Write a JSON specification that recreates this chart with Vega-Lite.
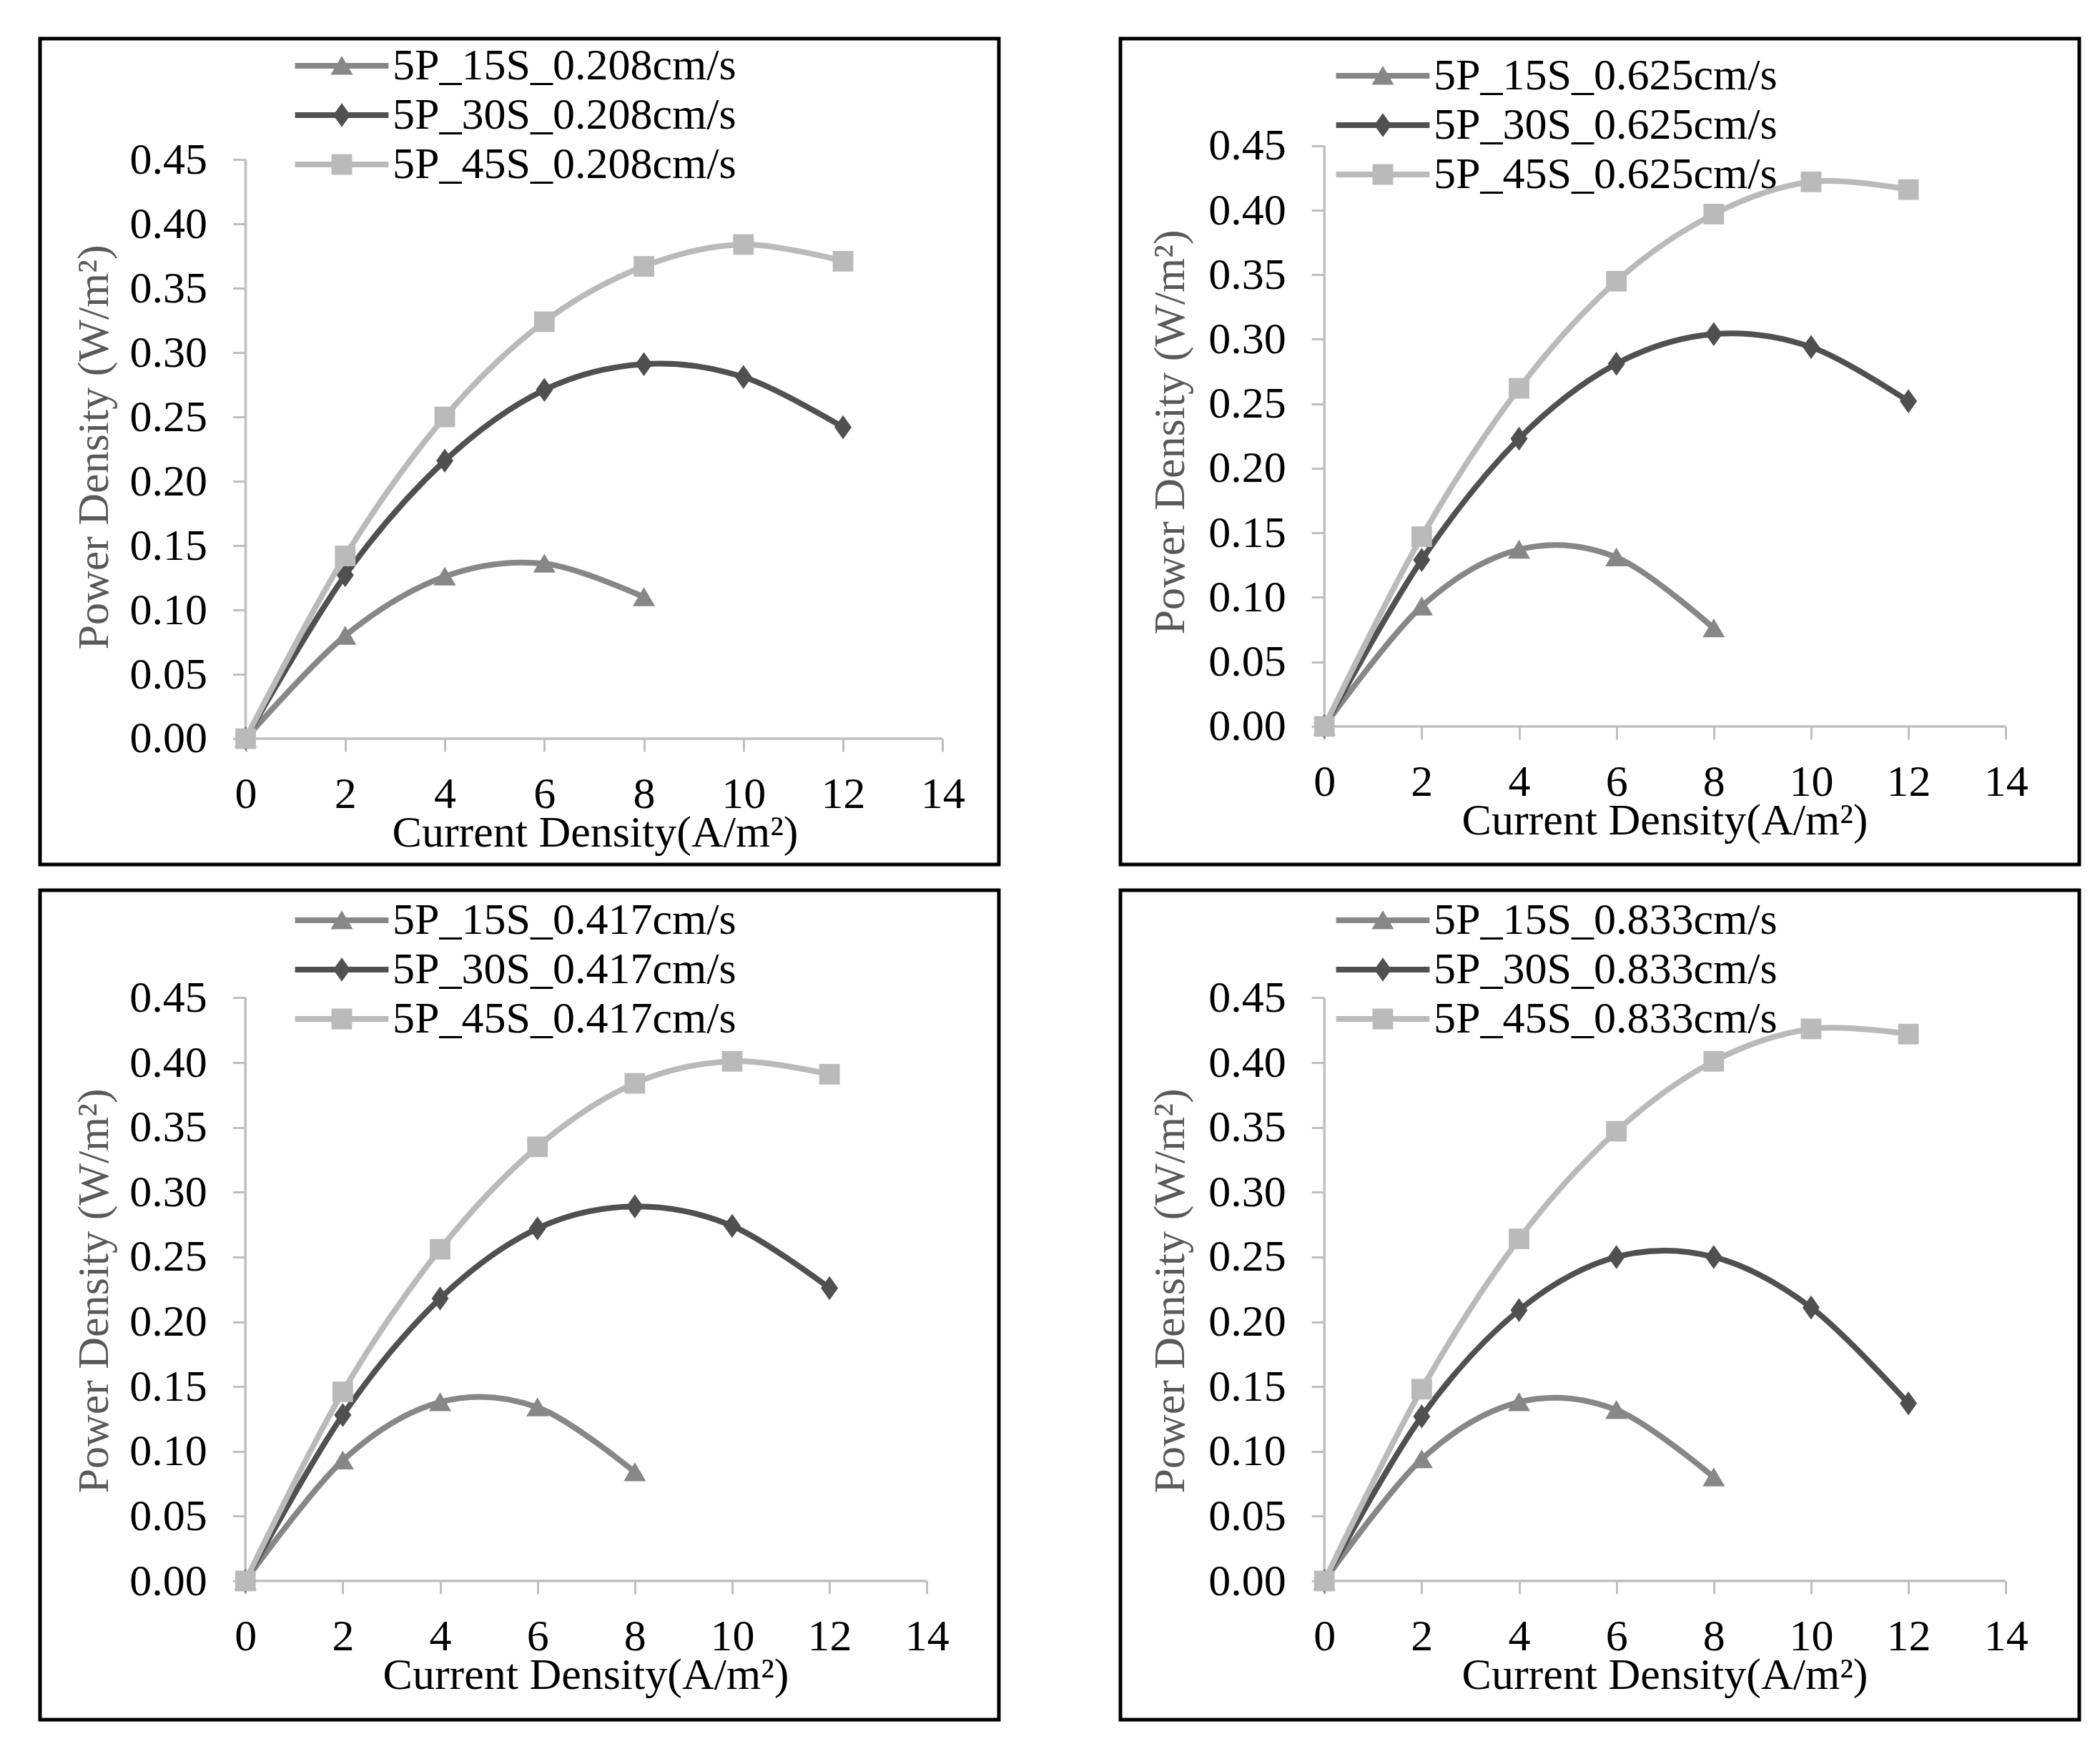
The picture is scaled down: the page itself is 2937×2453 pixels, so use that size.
{
  "$schema": "https://vega.github.io/schema/vega-lite/v6.json",
  "padding": {"left": 53, "top": 51, "right": 0, "bottom": 0},
  "background": "white",
  "datasets": {
    "pts": [
      {"panel": "A", "series": "5P_15S_0.208cm/s", "x": 0, "y": 0},
      {"panel": "A", "series": "5P_15S_0.208cm/s", "x": 2, "y": 0.080},
      {"panel": "A", "series": "5P_15S_0.208cm/s", "x": 4, "y": 0.126},
      {"panel": "A", "series": "5P_15S_0.208cm/s", "x": 6, "y": 0.136},
      {"panel": "A", "series": "5P_15S_0.208cm/s", "x": 8, "y": 0.110},
      {"panel": "A", "series": "5P_30S_0.208cm/s", "x": 0, "y": 0},
      {"panel": "A", "series": "5P_30S_0.208cm/s", "x": 2, "y": 0.127},
      {"panel": "A", "series": "5P_30S_0.208cm/s", "x": 4, "y": 0.216},
      {"panel": "A", "series": "5P_30S_0.208cm/s", "x": 6, "y": 0.271},
      {"panel": "A", "series": "5P_30S_0.208cm/s", "x": 8, "y": 0.291},
      {"panel": "A", "series": "5P_30S_0.208cm/s", "x": 10, "y": 0.281},
      {"panel": "A", "series": "5P_30S_0.208cm/s", "x": 12, "y": 0.242},
      {"panel": "A", "series": "5P_45S_0.208cm/s", "x": 0, "y": 0},
      {"panel": "A", "series": "5P_45S_0.208cm/s", "x": 2, "y": 0.142},
      {"panel": "A", "series": "5P_45S_0.208cm/s", "x": 4, "y": 0.250},
      {"panel": "A", "series": "5P_45S_0.208cm/s", "x": 6, "y": 0.324},
      {"panel": "A", "series": "5P_45S_0.208cm/s", "x": 8, "y": 0.367},
      {"panel": "A", "series": "5P_45S_0.208cm/s", "x": 10, "y": 0.384},
      {"panel": "A", "series": "5P_45S_0.208cm/s", "x": 12, "y": 0.371},
      {"panel": "B", "series": "5P_15S_0.625cm/s", "x": 0, "y": 0},
      {"panel": "B", "series": "5P_15S_0.625cm/s", "x": 2, "y": 0.093},
      {"panel": "B", "series": "5P_15S_0.625cm/s", "x": 4, "y": 0.137},
      {"panel": "B", "series": "5P_15S_0.625cm/s", "x": 6, "y": 0.131},
      {"panel": "B", "series": "5P_15S_0.625cm/s", "x": 8, "y": 0.076},
      {"panel": "B", "series": "5P_30S_0.625cm/s", "x": 0, "y": 0},
      {"panel": "B", "series": "5P_30S_0.625cm/s", "x": 2, "y": 0.129},
      {"panel": "B", "series": "5P_30S_0.625cm/s", "x": 4, "y": 0.223},
      {"panel": "B", "series": "5P_30S_0.625cm/s", "x": 6, "y": 0.281},
      {"panel": "B", "series": "5P_30S_0.625cm/s", "x": 8, "y": 0.304},
      {"panel": "B", "series": "5P_30S_0.625cm/s", "x": 10, "y": 0.294},
      {"panel": "B", "series": "5P_30S_0.625cm/s", "x": 12, "y": 0.252},
      {"panel": "B", "series": "5P_45S_0.625cm/s", "x": 0, "y": 0},
      {"panel": "B", "series": "5P_45S_0.625cm/s", "x": 2, "y": 0.147},
      {"panel": "B", "series": "5P_45S_0.625cm/s", "x": 4, "y": 0.262},
      {"panel": "B", "series": "5P_45S_0.625cm/s", "x": 6, "y": 0.345},
      {"panel": "B", "series": "5P_45S_0.625cm/s", "x": 8, "y": 0.397},
      {"panel": "B", "series": "5P_45S_0.625cm/s", "x": 10, "y": 0.422},
      {"panel": "B", "series": "5P_45S_0.625cm/s", "x": 12, "y": 0.416},
      {"panel": "C", "series": "5P_15S_0.417cm/s", "x": 0, "y": 0},
      {"panel": "C", "series": "5P_15S_0.417cm/s", "x": 2, "y": 0.093},
      {"panel": "C", "series": "5P_15S_0.417cm/s", "x": 4, "y": 0.138},
      {"panel": "C", "series": "5P_15S_0.417cm/s", "x": 6, "y": 0.134},
      {"panel": "C", "series": "5P_15S_0.417cm/s", "x": 8, "y": 0.084},
      {"panel": "C", "series": "5P_30S_0.417cm/s", "x": 0, "y": 0},
      {"panel": "C", "series": "5P_30S_0.417cm/s", "x": 2, "y": 0.128},
      {"panel": "C", "series": "5P_30S_0.417cm/s", "x": 4, "y": 0.218},
      {"panel": "C", "series": "5P_30S_0.417cm/s", "x": 6, "y": 0.272},
      {"panel": "C", "series": "5P_30S_0.417cm/s", "x": 8, "y": 0.289},
      {"panel": "C", "series": "5P_30S_0.417cm/s", "x": 10, "y": 0.274},
      {"panel": "C", "series": "5P_30S_0.417cm/s", "x": 12, "y": 0.226},
      {"panel": "C", "series": "5P_45S_0.417cm/s", "x": 0, "y": 0},
      {"panel": "C", "series": "5P_45S_0.417cm/s", "x": 2, "y": 0.146},
      {"panel": "C", "series": "5P_45S_0.417cm/s", "x": 4, "y": 0.256},
      {"panel": "C", "series": "5P_45S_0.417cm/s", "x": 6, "y": 0.335},
      {"panel": "C", "series": "5P_45S_0.417cm/s", "x": 8, "y": 0.384},
      {"panel": "C", "series": "5P_45S_0.417cm/s", "x": 10, "y": 0.401},
      {"panel": "C", "series": "5P_45S_0.417cm/s", "x": 12, "y": 0.391},
      {"panel": "D", "series": "5P_15S_0.833cm/s", "x": 0, "y": 0},
      {"panel": "D", "series": "5P_15S_0.833cm/s", "x": 2, "y": 0.094},
      {"panel": "D", "series": "5P_15S_0.833cm/s", "x": 4, "y": 0.138},
      {"panel": "D", "series": "5P_15S_0.833cm/s", "x": 6, "y": 0.132},
      {"panel": "D", "series": "5P_15S_0.833cm/s", "x": 8, "y": 0.080},
      {"panel": "D", "series": "5P_30S_0.833cm/s", "x": 0, "y": 0},
      {"panel": "D", "series": "5P_30S_0.833cm/s", "x": 2, "y": 0.127},
      {"panel": "D", "series": "5P_30S_0.833cm/s", "x": 4, "y": 0.209},
      {"panel": "D", "series": "5P_30S_0.833cm/s", "x": 6, "y": 0.250},
      {"panel": "D", "series": "5P_30S_0.833cm/s", "x": 8, "y": 0.250},
      {"panel": "D", "series": "5P_30S_0.833cm/s", "x": 10, "y": 0.211},
      {"panel": "D", "series": "5P_30S_0.833cm/s", "x": 12, "y": 0.137},
      {"panel": "D", "series": "5P_45S_0.833cm/s", "x": 0, "y": 0},
      {"panel": "D", "series": "5P_45S_0.833cm/s", "x": 2, "y": 0.148},
      {"panel": "D", "series": "5P_45S_0.833cm/s", "x": 4, "y": 0.264},
      {"panel": "D", "series": "5P_45S_0.833cm/s", "x": 6, "y": 0.347},
      {"panel": "D", "series": "5P_45S_0.833cm/s", "x": 8, "y": 0.401},
      {"panel": "D", "series": "5P_45S_0.833cm/s", "x": 10, "y": 0.426},
      {"panel": "D", "series": "5P_45S_0.833cm/s", "x": 12, "y": 0.422}
    ],
    "origin": [{"x": 0, "y": 0}]
  },
  "resolve": {"scale": {"color": "independent", "shape": "independent"}, "legend": {"color": "independent", "shape": "independent"}},
  "spacing": 30,
  "vconcat": [
    {
      "spacing": 164,
      "resolve": {"scale": {"color": "independent", "shape": "independent"}, "legend": {"color": "independent", "shape": "independent"}},
      "hconcat": [
        {
          "width": 1341, "height": 1155,
          "encoding": {
            "x": {"field": "x", "type": "quantitative", "scale": {"domain": [-4.13, 15.13], "nice": false, "zero": false},
                  "axis": {"title": "Current Density(A/m²)", "offset": -176, "titleX": 776, "titleY": 131, "values": [0, 2, 4, 6, 8, 10, 12, 14], "format": "d"}},
            "y": {"field": "y", "type": "quantitative", "scale": {"domain": [-0.0978, 0.544], "nice": false, "zero": false},
                  "axis": {"title": "Power Density (W/m²)", "offset": -287.6, "titleX": -212, "titleY": 571, "values": [0, 0.05, 0.1, 0.15, 0.2, 0.25, 0.3, 0.35, 0.4, 0.45], "format": ".2f"}}
          },
          "layer": [
            {"data": {"name": "origin"}, "mark": {"type": "rule", "strokeWidth": 3.5, "color": "#bfbfbf"}, "encoding": {"y2": {"datum": 0.45}}},
            {"data": {"name": "origin"}, "mark": {"type": "rule", "strokeWidth": 3.5, "color": "#bfbfbf"}, "encoding": {"x2": {"datum": 14}}},
            {"data": {"name": "pts"}, "transform": [{"filter": "datum.series == '5P_15S_0.208cm/s'"}],
             "mark": {"type": "line", "interpolate": "cardinal", "strokeWidth": 8, "color": "#878787",
                      "point": {"filled": true, "opacity": 1, "size": 576, "color": "#878787", "shape": "M0,-1.15L1.3,1.05H-1.3Z"}}},
            {"data": {"name": "pts"}, "transform": [{"filter": "datum.series == '5P_30S_0.208cm/s'"}],
             "mark": {"type": "line", "interpolate": "cardinal", "strokeWidth": 8, "color": "#505050",
                      "point": {"filled": true, "opacity": 1, "size": 576, "color": "#505050", "shape": "M0,-1.4L1,0L0,1.4L-1,0Z"}}},
            {"data": {"name": "pts"}, "transform": [{"filter": "datum.series == '5P_45S_0.208cm/s'"}],
             "mark": {"type": "line", "interpolate": "cardinal", "strokeWidth": 8, "color": "#bababa",
                      "point": {"filled": true, "opacity": 1, "size": 576, "color": "#bababa", "shape": "M-1.2,-1.2H1.2V1.2H-1.2Z"}}},
            {"data": {"name": "pts"}, "transform": [{"filter": "datum.panel == 'none'"}],
             "mark": {"type": "point", "filled": true, "opacity": 1, "size": 576},
             "encoding": {
               "color": {"field": "series", "type": "nominal", "legend": {"legendX": 391, "legendY": 7},
                 "scale": {"domain": ["5P_15S_0.208cm/s", "5P_30S_0.208cm/s", "5P_45S_0.208cm/s"], "range": ["#878787", "#505050", "#bababa"]}},
               "shape": {"field": "series", "type": "nominal", "legend": {"legendX": 391, "legendY": 7},
                 "scale": {"domain": ["5P_15S_0.208cm/s", "5P_30S_0.208cm/s", "5P_45S_0.208cm/s"],
                           "range": ["M-5.45,-0.33H5.45V0.33H-5.45Z M0,-1.15L1.3,1.05H-1.3Z", "M-5.45,-0.33H5.45V0.33H-5.45Z M0,-1.4L1,0L0,1.4L-1,0Z", "M-5.45,-0.33H5.45V0.33H-5.45Z M-1.2,-1.2H1.2V1.2H-1.2Z"]}}}}
          ]
        },
        {
          "width": 1341, "height": 1155,
          "encoding": {
            "x": {"field": "x", "type": "quantitative", "scale": {"domain": [-4.19, 15.51], "nice": false, "zero": false},
                  "axis": {"title": "Current Density(A/m²)", "offset": -193, "titleX": 761, "titleY": 131, "values": [0, 2, 4, 6, 8, 10, 12, 14], "format": "d"}},
            "y": {"field": "y", "type": "quantitative", "scale": {"domain": [-0.107, 0.533], "nice": false, "zero": false},
                  "axis": {"title": "Power Density (W/m²)", "offset": -285.2, "titleX": -216, "titleY": 550, "values": [0, 0.05, 0.1, 0.15, 0.2, 0.25, 0.3, 0.35, 0.4, 0.45], "format": ".2f"}}
          },
          "layer": [
            {"data": {"name": "origin"}, "mark": {"type": "rule", "strokeWidth": 3.5, "color": "#bfbfbf"}, "encoding": {"y2": {"datum": 0.45}}},
            {"data": {"name": "origin"}, "mark": {"type": "rule", "strokeWidth": 3.5, "color": "#bfbfbf"}, "encoding": {"x2": {"datum": 14}}},
            {"data": {"name": "pts"}, "transform": [{"filter": "datum.series == '5P_15S_0.625cm/s'"}],
             "mark": {"type": "line", "interpolate": "cardinal", "strokeWidth": 8, "color": "#878787",
                      "point": {"filled": true, "opacity": 1, "size": 576, "color": "#878787", "shape": "M0,-1.15L1.3,1.05H-1.3Z"}}},
            {"data": {"name": "pts"}, "transform": [{"filter": "datum.series == '5P_30S_0.625cm/s'"}],
             "mark": {"type": "line", "interpolate": "cardinal", "strokeWidth": 8, "color": "#505050",
                      "point": {"filled": true, "opacity": 1, "size": 576, "color": "#505050", "shape": "M0,-1.4L1,0L0,1.4L-1,0Z"}}},
            {"data": {"name": "pts"}, "transform": [{"filter": "datum.series == '5P_45S_0.625cm/s'"}],
             "mark": {"type": "line", "interpolate": "cardinal", "strokeWidth": 8, "color": "#bababa",
                      "point": {"filled": true, "opacity": 1, "size": 576, "color": "#bababa", "shape": "M-1.2,-1.2H1.2V1.2H-1.2Z"}}},
            {"data": {"name": "pts"}, "transform": [{"filter": "datum.panel == 'none'"}],
             "mark": {"type": "point", "filled": true, "opacity": 1, "size": 576},
             "encoding": {
               "color": {"field": "series", "type": "nominal", "legend": {"legendX": 336, "legendY": 21},
                 "scale": {"domain": ["5P_15S_0.625cm/s", "5P_30S_0.625cm/s", "5P_45S_0.625cm/s"], "range": ["#878787", "#505050", "#bababa"]}},
               "shape": {"field": "series", "type": "nominal", "legend": {"legendX": 336, "legendY": 21},
                 "scale": {"domain": ["5P_15S_0.625cm/s", "5P_30S_0.625cm/s", "5P_45S_0.625cm/s"],
                           "range": ["M-5.45,-0.33H5.45V0.33H-5.45Z M0,-1.15L1.3,1.05H-1.3Z", "M-5.45,-0.33H5.45V0.33H-5.45Z M0,-1.4L1,0L0,1.4L-1,0Z", "M-5.45,-0.33H5.45V0.33H-5.45Z M-1.2,-1.2H1.2V1.2H-1.2Z"]}}}}
          ]
        }
      ]
    },
    {
      "spacing": 164,
      "resolve": {"scale": {"color": "independent", "shape": "independent"}, "legend": {"color": "independent", "shape": "independent"}},
      "hconcat": [
        {
          "width": 1341, "height": 1160,
          "encoding": {
            "x": {"field": "x", "type": "quantitative", "scale": {"domain": [-4.22, 15.48], "nice": false, "zero": false},
                  "axis": {"title": "Current Density(A/m²)", "offset": -194, "titleX": 763, "titleY": 131, "values": [0, 2, 4, 6, 8, 10, 12, 14], "format": "d"}},
            "y": {"field": "y", "type": "quantitative", "scale": {"domain": [-0.107, 0.533], "nice": false, "zero": false},
                  "axis": {"title": "Power Density (W/m²)", "offset": -287.3, "titleX": -212, "titleY": 560, "values": [0, 0.05, 0.1, 0.15, 0.2, 0.25, 0.3, 0.35, 0.4, 0.45], "format": ".2f"}}
          },
          "layer": [
            {"data": {"name": "origin"}, "mark": {"type": "rule", "strokeWidth": 3.5, "color": "#bfbfbf"}, "encoding": {"y2": {"datum": 0.45}}},
            {"data": {"name": "origin"}, "mark": {"type": "rule", "strokeWidth": 3.5, "color": "#bfbfbf"}, "encoding": {"x2": {"datum": 14}}},
            {"data": {"name": "pts"}, "transform": [{"filter": "datum.series == '5P_15S_0.417cm/s'"}],
             "mark": {"type": "line", "interpolate": "cardinal", "strokeWidth": 8, "color": "#878787",
                      "point": {"filled": true, "opacity": 1, "size": 576, "color": "#878787", "shape": "M0,-1.15L1.3,1.05H-1.3Z"}}},
            {"data": {"name": "pts"}, "transform": [{"filter": "datum.series == '5P_30S_0.417cm/s'"}],
             "mark": {"type": "line", "interpolate": "cardinal", "strokeWidth": 8, "color": "#505050",
                      "point": {"filled": true, "opacity": 1, "size": 576, "color": "#505050", "shape": "M0,-1.4L1,0L0,1.4L-1,0Z"}}},
            {"data": {"name": "pts"}, "transform": [{"filter": "datum.series == '5P_45S_0.417cm/s'"}],
             "mark": {"type": "line", "interpolate": "cardinal", "strokeWidth": 8, "color": "#bababa",
                      "point": {"filled": true, "opacity": 1, "size": 576, "color": "#bababa", "shape": "M-1.2,-1.2H1.2V1.2H-1.2Z"}}},
            {"data": {"name": "pts"}, "transform": [{"filter": "datum.panel == 'none'"}],
             "mark": {"type": "point", "filled": true, "opacity": 1, "size": 576},
             "encoding": {
               "color": {"field": "series", "type": "nominal", "legend": {"legendX": 391, "legendY": 11},
                 "scale": {"domain": ["5P_15S_0.417cm/s", "5P_30S_0.417cm/s", "5P_45S_0.417cm/s"], "range": ["#878787", "#505050", "#bababa"]}},
               "shape": {"field": "series", "type": "nominal", "legend": {"legendX": 391, "legendY": 11},
                 "scale": {"domain": ["5P_15S_0.417cm/s", "5P_30S_0.417cm/s", "5P_45S_0.417cm/s"],
                           "range": ["M-5.45,-0.33H5.45V0.33H-5.45Z M0,-1.15L1.3,1.05H-1.3Z", "M-5.45,-0.33H5.45V0.33H-5.45Z M0,-1.4L1,0L0,1.4L-1,0Z", "M-5.45,-0.33H5.45V0.33H-5.45Z M-1.2,-1.2H1.2V1.2H-1.2Z"]}}}}
          ]
        },
        {
          "width": 1341, "height": 1160,
          "encoding": {
            "x": {"field": "x", "type": "quantitative", "scale": {"domain": [-4.19, 15.51], "nice": false, "zero": false},
                  "axis": {"title": "Current Density(A/m²)", "offset": -194, "titleX": 761, "titleY": 131, "values": [0, 2, 4, 6, 8, 10, 12, 14], "format": "d"}},
            "y": {"field": "y", "type": "quantitative", "scale": {"domain": [-0.107, 0.533], "nice": false, "zero": false},
                  "axis": {"title": "Power Density (W/m²)", "offset": -285.2, "titleX": -216, "titleY": 560, "values": [0, 0.05, 0.1, 0.15, 0.2, 0.25, 0.3, 0.35, 0.4, 0.45], "format": ".2f"}}
          },
          "layer": [
            {"data": {"name": "origin"}, "mark": {"type": "rule", "strokeWidth": 3.5, "color": "#bfbfbf"}, "encoding": {"y2": {"datum": 0.45}}},
            {"data": {"name": "origin"}, "mark": {"type": "rule", "strokeWidth": 3.5, "color": "#bfbfbf"}, "encoding": {"x2": {"datum": 14}}},
            {"data": {"name": "pts"}, "transform": [{"filter": "datum.series == '5P_15S_0.833cm/s'"}],
             "mark": {"type": "line", "interpolate": "cardinal", "strokeWidth": 8, "color": "#878787",
                      "point": {"filled": true, "opacity": 1, "size": 576, "color": "#878787", "shape": "M0,-1.15L1.3,1.05H-1.3Z"}}},
            {"data": {"name": "pts"}, "transform": [{"filter": "datum.series == '5P_30S_0.833cm/s'"}],
             "mark": {"type": "line", "interpolate": "cardinal", "strokeWidth": 8, "color": "#505050",
                      "point": {"filled": true, "opacity": 1, "size": 576, "color": "#505050", "shape": "M0,-1.4L1,0L0,1.4L-1,0Z"}}},
            {"data": {"name": "pts"}, "transform": [{"filter": "datum.series == '5P_45S_0.833cm/s'"}],
             "mark": {"type": "line", "interpolate": "cardinal", "strokeWidth": 8, "color": "#bababa",
                      "point": {"filled": true, "opacity": 1, "size": 576, "color": "#bababa", "shape": "M-1.2,-1.2H1.2V1.2H-1.2Z"}}},
            {"data": {"name": "pts"}, "transform": [{"filter": "datum.panel == 'none'"}],
             "mark": {"type": "point", "filled": true, "opacity": 1, "size": 576},
             "encoding": {
               "color": {"field": "series", "type": "nominal", "legend": {"legendX": 336, "legendY": 11},
                 "scale": {"domain": ["5P_15S_0.833cm/s", "5P_30S_0.833cm/s", "5P_45S_0.833cm/s"], "range": ["#878787", "#505050", "#bababa"]}},
               "shape": {"field": "series", "type": "nominal", "legend": {"legendX": 336, "legendY": 11},
                 "scale": {"domain": ["5P_15S_0.833cm/s", "5P_30S_0.833cm/s", "5P_45S_0.833cm/s"],
                           "range": ["M-5.45,-0.33H5.45V0.33H-5.45Z M0,-1.15L1.3,1.05H-1.3Z", "M-5.45,-0.33H5.45V0.33H-5.45Z M0,-1.4L1,0L0,1.4L-1,0Z", "M-5.45,-0.33H5.45V0.33H-5.45Z M-1.2,-1.2H1.2V1.2H-1.2Z"]}}}}
          ]
        }
      ]
    }
  ],
  "config": {
    "font": "Liberation Serif",
    "view": {"stroke": "black", "strokeWidth": 5},
    "axis": {
      "grid": false, "domain": false,
      "labelFont": "Liberation Serif", "labelFontSize": 62, "labelColor": "black", "labelOverlap": false, "labelFlush": false,
      "tickColor": "#bfbfbf", "tickWidth": 3, "tickSize": 18,
      "titleFont": "Liberation Serif", "titleFontSize": 62, "titleFontWeight": "normal", "titleBaseline": "middle"
    },
    "axisX": {"labelPadding": 29, "titleColor": "black"},
    "axisY": {"labelPadding": 36, "titleColor": "#595959", "titleAngle": -90},
    "legend": {
      "orient": "none", "title": null, "padding": 0, "offset": 0,
      "labelFont": "Liberation Serif", "labelFontSize": 62, "labelColor": "black", "labelLimit": 0,
      "symbolSize": 576, "symbolStrokeWidth": 0, "labelOffset": 40, "rowPadding": 7, "symbolOpacity": 1
    }
  }
}
